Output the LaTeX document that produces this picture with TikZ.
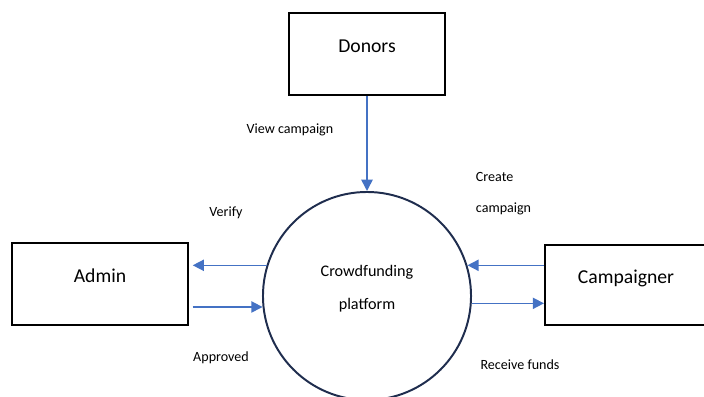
\documentclass[tikz,border=0pt]{standalone}
\usepackage{fontspec}
\setmainfont{Carlito}
\usetikzlibrary{arrows.meta}
\definecolor{flowblue}{HTML}{4472C4}
\definecolor{ringnavy}{HTML}{1F2D4E}

\begin{document}
\begin{tikzpicture}[x=0.025cm, y=-0.025cm, >=Triangle,
  every node/.style={font=\fontsize{10}{12}\selectfont},
  entity/.style={draw=black, line width=1.4pt, font=\fontsize{14}{16}\selectfont, text depth=0.4cm, minimum height=2.05cm},
  flow/.style={draw=flowblue, line width=1.1pt, -{Triangle[length=8pt,width=8pt]}}]
\useasboundingbox (0,0) rectangle (704,396);
\node[entity, minimum width=3.9cm] (donors) at (367,54) {Donors};
\node[entity, minimum width=4.375cm] (admin) at (100,284) {Admin};
\node[entity, minimum width=4.05cm, minimum height=2.0cm] (campaigner) at (626,285) {Campaigner};
\node[circle, draw=ringnavy, line width=1.4pt, minimum size=5.2cm, align=center, text depth=0.43cm,
  font=\fontsize{11.5}{23.5}\selectfont] (platform) at (367,296) {Crowdfunding\\platform};
\node (view) at (290,130) {View campaign};
\node (verify) at (226,213) {Verify};
\node (approved) at (221,358) {Approved};
\node[align=left, anchor=west, font=\fontsize{10}{22}\selectfont] (create) at (471,194) {Create\\campaign};
\node (receive) at (520,365) {Receive funds};
\draw[flow] (donors) -- (platform);
\draw[flow] (platform.163) -- ([xshift=3]platform.163 -| admin.east);
\draw[flow] ([xshift=3]platform.186 -| admin.east) -- (platform.186);
\draw[flow] (platform.17 -| campaigner.west) -- (platform.17);
\draw[flow] (platform.-4) -- (platform.-4 -| campaigner.west);
\end{tikzpicture}
\end{document}
